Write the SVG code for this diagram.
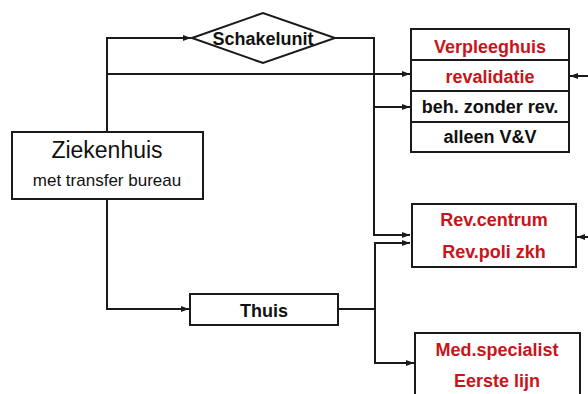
<svg xmlns="http://www.w3.org/2000/svg" width="588" height="394" viewBox="0 0 588 394">
<style>
.box{fill:#fff;stroke:#1a1a1a;stroke-width:2}
.ln{fill:none;stroke:#1a1a1a;stroke-width:2}
.b{font-family:"Liberation Sans",Arial,sans-serif;font-weight:bold;font-size:18px;text-anchor:middle}
.red{fill:#c8141b}
.blk{fill:#111}
.n{font-family:"Liberation Sans",Arial,sans-serif;text-anchor:middle;fill:#111}
</style>
<defs>
<marker id="ah" viewBox="0 0 8 8" refX="8" refY="4" markerWidth="8" markerHeight="8" markerUnits="userSpaceOnUse" orient="auto">
<path d="M0,1 L8,4 L0,7 Z" fill="#1a1a1a"/>
</marker>
</defs>
<rect width="588" height="394" fill="#fff"/>
<g id="connectors">
<path class="ln" d="M107,131 V38 H191" marker-end="url(#ah)"/>
<path class="ln" d="M107,74 H410" marker-end="url(#ah)"/>
<path class="ln" d="M335,38 H374 V235 H410" marker-end="url(#ah)"/>
<path class="ln" d="M374,107 H410" marker-end="url(#ah)"/>
<path class="ln" d="M107,199 V309 H189" marker-end="url(#ah)"/>
<path class="ln" d="M338,309 H375"/>
<path class="ln" d="M375,364 V243 H410" marker-end="url(#ah)"/>
<path class="ln" d="M375,363 H414" marker-end="url(#ah)"/>
<path class="ln" d="M588,76 H570" marker-end="url(#ah)"/>
<path class="ln" d="M588,237 H577" marker-end="url(#ah)"/>
</g>
<g id="ziekenhuis">
<rect class="box" x="12" y="132" width="191" height="67"/>
<text class="n" x="107" y="158" font-size="23">Ziekenhuis</text>
<text class="n" x="107" y="186" font-size="17">met transfer bureau</text>
</g>
<g id="schakelunit">
<polygon class="box" points="192,38 263,13 335,38 263,63"/>
<text class="b blk" x="263" y="45">Schakelunit</text>
</g>
<g id="verpleeghuis">
<rect class="box" x="411" y="29" width="158" height="123"/>
<line class="ln" x1="411" y1="60" x2="569" y2="60"/>
<line class="ln" x1="411" y1="91" x2="569" y2="91"/>
<line class="ln" x1="411" y1="122" x2="569" y2="122"/>
<text class="b red" x="490" y="53">Verpleeghuis</text>
<text class="b red" x="490" y="83">revalidatie</text>
<text class="b blk" x="490" y="113">beh. zonder rev.</text>
<text class="b blk" x="490" y="143">alleen V&amp;V</text>
</g>
<g id="revcentrum">
<rect class="box" x="412" y="204" width="164" height="63"/>
<text class="b red" x="494" y="226">Rev.centrum</text>
<text class="b red" x="494" y="258">Rev.poli zkh</text>
</g>
<g id="thuis">
<rect class="box" x="190" y="294" width="148" height="31"/>
<text class="b blk" x="264" y="317">Thuis</text>
</g>
<g id="medspecialist">
<rect class="box" x="415" y="333" width="165" height="70"/>
<text class="b red" x="497" y="356">Med.specialist</text>
<text class="b red" x="497" y="387">Eerste lijn</text>
</g>
</svg>
